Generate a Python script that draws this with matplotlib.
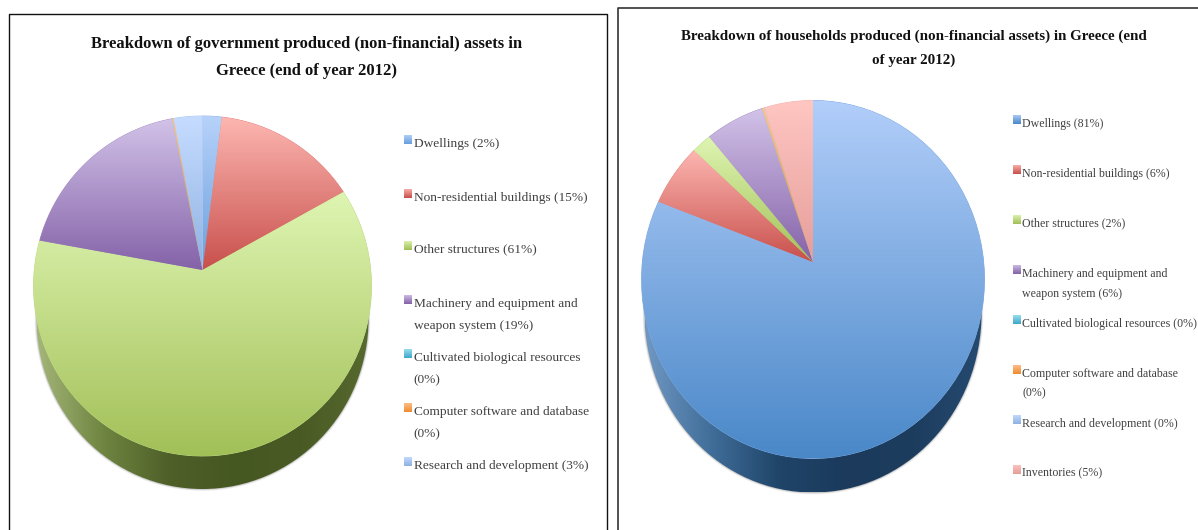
import numpy as np
import matplotlib
matplotlib.use('Agg')
import matplotlib.pyplot as plt
from matplotlib.colors import LinearSegmentedColormap, to_rgb
from matplotlib.patches import Polygon, Ellipse, Rectangle

plt.rcParams['font.family'] = ['Liberation Serif', 'DejaVu Serif']

gov_values = [2, 15, 61, 19, 0.05, 0.15, 3]
gov_labels = ['Dwellings (2%)', 'Non-residential buildings (15%)', 'Other structures (61%)',
              'Machinery and equipment and\nweapon system (19%)', 'Cultivated biological resources\n(0%)',
              'Computer software and database\n(0%)', 'Research and development (3%)']
hh_values = [81, 6, 2, 6, 0.05, 0.25, 0.05, 5]
hh_labels = ['Dwellings (81%)', 'Non-residential buildings (6%)', 'Other structures (2%)',
             'Machinery and equipment and\nweapon system (6%)', 'Cultivated biological resources (0%)',
             'Computer software and database\n(0%)', 'Research and development (0%)', 'Inventories (5%)']
gov_title = 'Breakdown of government produced (non-financial) assets in\nGreece (end of year 2012)'
hh_title = 'Breakdown of households produced (non-financial assets) in Greece (end\nof year 2012)'

# light (top) and dark (bottom) colour of each slice
gov_colors = [('#b6d2fa', '#6a9fdc'), ('#fdb6b1', '#c8504c'), ('#def5b2', '#a2c058'), ('#d2c2e8', '#8462a8'),
              ('#a0e2f2', '#40a8c8'), ('#ffc292', '#f08c30'), ('#c6dcff', '#8fb2e2')]
hh_colors = [('#b2cefa', '#4a88c8'), ('#fdb6b1', '#c8504c'), ('#def5b2', '#a2c058'), ('#d2c2e8', '#8462a8'),
             ('#a0e2f2', '#40a8c8'), ('#ffc292', '#f08c30'), ('#c6dcff', '#8fb2e2'), ('#ffc6c2', '#e59e9a')]


def grad(ax, patch, c1, c2, horizontal=False, n=200):
    # gradient image clipped to a patch
    ax.add_patch(patch)
    patch.set_facecolor('none')
    patch.set_edgecolor('none')
    x0, y0, x1, y1 = patch.get_window_extent().transformed(ax.transData.inverted()).extents
    cmap = LinearSegmentedColormap.from_list('g', list(c1) if c2 is None else [c1, c2])
    g = np.linspace(0, 1, n)
    g = g.reshape(1, -1) if horizontal else g.reshape(-1, 1)
    im = ax.imshow(g, cmap=cmap, extent=(x0, x1, max(y0, y1), min(y0, y1)), aspect='auto', zorder=patch.get_zorder(), interpolation='bilinear')
    im.set_clip_path(patch)


def wedge_verts(edge, i, cx, cy, rx, ry, apex_y):
    a = (cy - apex_y) / ry
    t = np.linspace(edge[i], edge[i + 1], 80)
    # perspective: the centre of the disc moves up to the apex
    den = 1 + a * np.cos(t)
    px = cx + rx * np.sin(t) * np.sqrt(1 - a * a) / den
    py = cy - ry * (np.cos(t) + a) / den
    return np.column_stack([np.r_[cx, px], np.r_[apex_y, py]])


def pie3d(ax, values, colors, cx, cy, rx, ry, apex_y, depth, side_stops):
    # soft shadow round the lower edge
    for grow, alpha in [(4, 0.05), (3, 0.08), (2, 0.1), (1, 0.14)]:
        ax.add_patch(Ellipse((cx, cy + depth), 2 * (rx - 3) + grow, 2 * ry + grow, fc='#555555', ec='none', alpha=alpha, zorder=1))
    side = Ellipse((cx, cy + depth), 2 * (rx - 3), 2 * ry, zorder=2)
    grad(ax, side, side_stops, None, horizontal=True)
    edge = np.cumsum([0] + list(values)) / sum(values) * 2 * np.pi
    for i in range(len(values)):
        verts = wedge_verts(edge, i, cx, cy, rx, ry, apex_y)
        # solid base so that no seam shows the dark side through
        mid = tuple((np.array(to_rgb(colors[i][0])) + np.array(to_rgb(colors[i][1]))) / 2)
        ax.add_patch(Polygon(verts, closed=True, fc=mid, ec=mid, lw=0.6, zorder=3))
    for i in range(len(values)):
        wedge = Polygon(wedge_verts(edge, i, cx, cy, rx, ry, apex_y), closed=True, zorder=3.5)
        grad(ax, wedge, colors[i][0], colors[i][1])


def legend(ax, labels, colors, ys, mx, tx, size, gap):
    for label, col, y in zip(labels, colors, ys):
        sq = Rectangle((mx, y - 8), 8, 9.5, zorder=4)
        grad(ax, sq, col[0], col[1], n=20)
        lines = label.split('\n')
        for j, line in enumerate(lines):
            ax.text(tx, y + 0.5 + j * gap, line, fontsize=size, color='#404040', va='center', ha='left', zorder=5)


fig = plt.figure(figsize=(11.98, 5.30), dpi=100)
ax = fig.add_axes([0, 0, 1, 1])
ax.set_xlim(0, 1198)
ax.set_ylim(530, 0)
ax.axis('off')

# panel frames, open at the bottom of the picture
ax.plot([8.5, 8.5, 607, 607], [530, 13.5, 13.5, 530], color='#111111', lw=1.0, zorder=1)
ax.plot([618, 618, 1198], [530, 8, 8], color='#333333', lw=1.2, zorder=1)

pie3d(ax, gov_values, gov_colors, 202.5, 286, 169, 170, 270, 33,
      ['#a3b578', '#6e8440', '#4e5f28', '#465822', '#4a5a24', '#56692e'])
pie3d(ax, hh_values, hh_colors, 813, 279.5, 171.5, 179, 262, 34,
      ['#6f97c2', '#3f6c98', '#1f4468', '#1b3a5c', '#1d3d5f', '#254a70'])

ax.text(307, 57.5, gov_title, fontsize=12, fontweight='bold', color='#111111', ha='center', va='center', linespacing=1.95, zorder=5)
ax.text(913.5, 48.5, hh_title, fontsize=10.8, fontweight='bold', color='#111111', ha='center', va='center', linespacing=2.0, zorder=5)

legend(ax, gov_labels, gov_colors, [143, 197, 249, 303, 357, 411, 465], 403.5, 413.5, 9.6, 22.5)
legend(ax, hh_labels, hh_colors, [123, 173, 223, 273, 323, 373, 423, 473], 1013, 1022.5, 8.6, 20)

ax.set_xlim(0, 1198)
ax.set_ylim(530, 0)
fig.savefig('out.png', dpi=100)
